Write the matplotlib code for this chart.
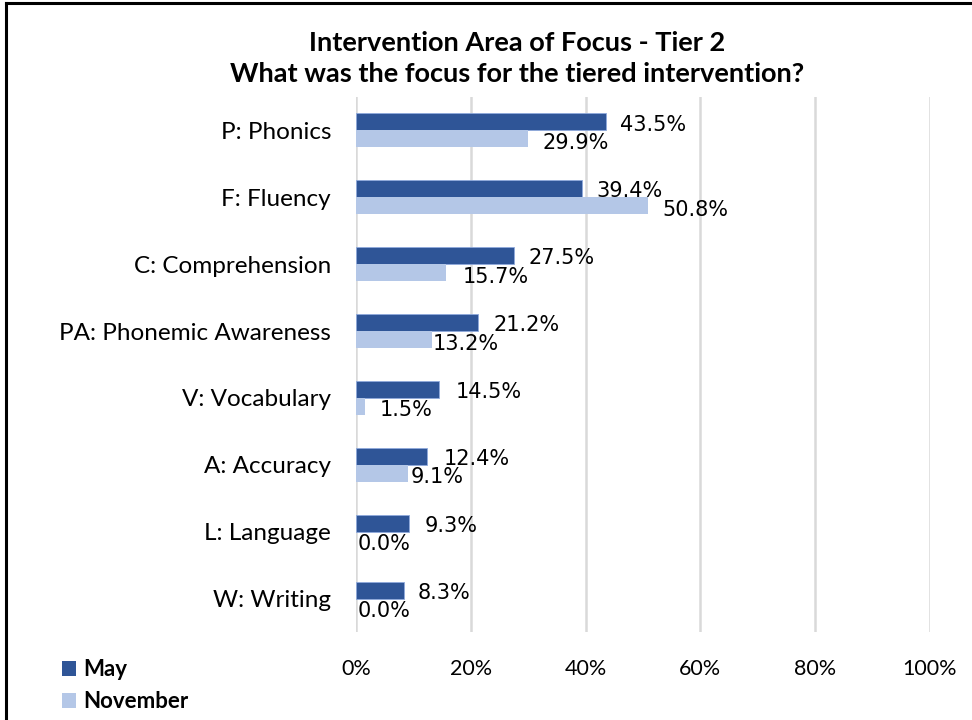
import matplotlib
matplotlib.use("Agg")
import matplotlib.pyplot as plt
from matplotlib.lines import Line2D
from matplotlib.patches import Patch
import numpy as np

categories = ["P: Phonics", "F: Fluency", "C: Comprehension", "PA: Phonemic Awareness",
              "V: Vocabulary", "A: Accuracy", "L: Language", "W: Writing"]
may = [43.5, 39.4, 27.5, 21.2, 14.5, 12.4, 9.3, 8.3]
november = [29.9, 50.8, 15.7, 13.2, 1.5, 9.1, 0.0, 0.0]
xticks = [0, 20, 40, 60, 80, 100]
xticklabels = ["0%", "20%", "40%", "60%", "80%", "100%"]

# label placement nudges (style, in percentage points)
may_dx = [2.5, 2.5, 2.5, 2.7, 2.9, 2.8, 2.6, 2.5]
nov_dx = [2.6, 2.5, 2.8, 0.2, 2.6, 0.5, 0.3, 0.3]

c_may = "#2F5597"
c_nov = "#B4C7E7"
lab_font = "Lato"

W, H = 972, 720
fig = plt.figure(figsize=(W / 100, H / 100), dpi=100)
ax = fig.add_axes([356 / W, 1 - 632 / H, (930 - 356) / W, (632 - 97) / H])

n = len(categories)
y = np.arange(n)
bh = 0.255
ax.barh(y - bh / 2, may, height=bh, color=c_may, edgecolor="#8FAADC", linewidth=0.6, zorder=3)
ax.barh(y + bh / 2, november, height=bh, color=c_nov, zorder=3)

for i in range(n):
    ax.text(may[i] + may_dx[i], y[i] - bh / 2 + 0.04, f"{may[i]:.1f}%", va="center", ha="left",
            fontsize=15, family="DejaVu Sans", color="black", zorder=4)
    ax.text(november[i] + nov_dx[i], y[i] + bh / 2 + 0.06, f"{november[i]:.1f}%", va="center", ha="left",
            fontsize=15, family="DejaVu Sans", color="black", zorder=4)

ax.set_xlim(0, 100)
ax.set_ylim(n - 0.5, -0.5)
ax.set_xticks(xticks)
ax.set_xticklabels(xticklabels, family=lab_font, fontsize=15.5)
ax.set_yticks(y)
ax.set_yticklabels(categories, family=lab_font, fontsize=17.5)
ax.tick_params(axis="x", length=0, pad=19.5)
ax.tick_params(axis="y", length=0, pad=18)
ax.grid(axis="x", color="#D9D9D9", linewidth=1.8, zorder=0)
for s in ax.spines.values():
    s.set_visible(False)

fig.text(517 / W, 1 - 43 / H, "Intervention Area of Focus - Tier 2", ha="center", va="center",
         fontsize=19.5, fontweight="bold", family=lab_font)
fig.text(517 / W, 1 - 74 / H, "What was the focus for the tiered intervention?", ha="center", va="center",
         fontsize=19.5, fontweight="bold", family=lab_font)

# legend
handles = [Patch(facecolor=c_may), Patch(facecolor=c_nov)]
leg = fig.legend(handles, ["May", "November"], loc="upper left", bbox_to_anchor=(62 / W, 1 - 659 / H),
                 frameon=False, prop={"family": lab_font, "weight": "bold", "size": 16},
                 handlelength=0.65, handleheight=0.65, handletextpad=0.3, labelspacing=0.5,
                 borderaxespad=0, borderpad=0)

# border
fig.add_artist(Line2D([6 / W, 1], [1 - 3 / H, 1 - 3 / H], color="black", linewidth=2.2, transform=fig.transFigure))
fig.add_artist(Line2D([6 / W, 6 / W], [0, 1 - 3 / H], color="black", linewidth=2.2, transform=fig.transFigure))

fig.savefig("out.png", dpi=100, facecolor="white")
